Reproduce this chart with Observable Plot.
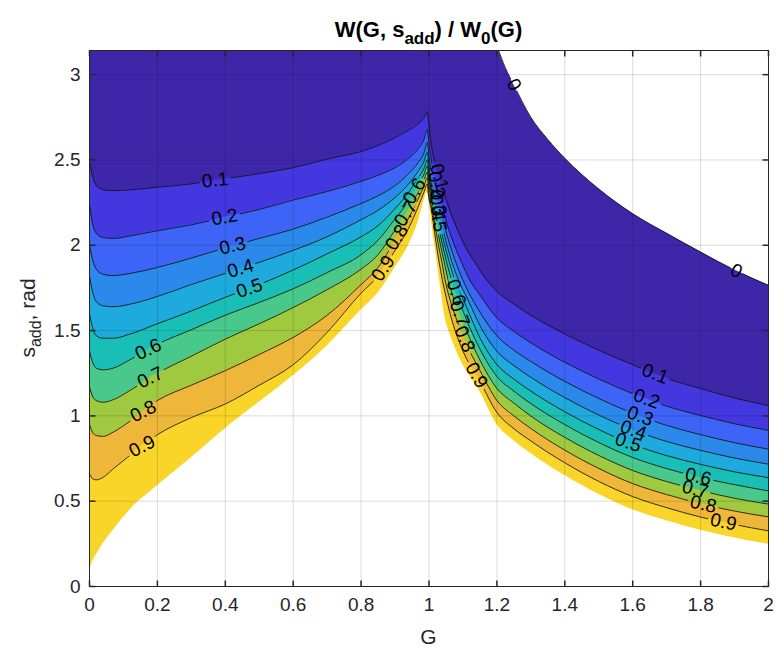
<!DOCTYPE html>
<html><head><meta charset="utf-8">
<script src="https://cdn.jsdelivr.net/npm/d3@7"></script>
<script src="https://cdn.jsdelivr.net/npm/@observablehq/plot@0.6"></script>
<style>body{margin:0;background:#fff;}</style>
</head><body><div id="chart"></div>
<script>
const TOP = Math.PI;
const xTicks = [0, 0.2, 0.4, 0.6, 0.8, 1, 1.2, 1.4, 1.6, 1.8, 2];
const yTicks = [0, 0.5, 1, 1.5, 2, 2.5, 3];
const levels = [0.1, 0.2, 0.3, 0.4, 0.5, 0.6, 0.7, 0.8, 0.9];
const bandColors = ["#3e26a8", "#4337e0", "#3d63f7", "#2a89ea", "#1eaadd", "#19bfb6", "#48c88a", "#9fc93f", "#efb73a", "#f9d52a"];

// left branch (G < 1): s_add of each contour at these G values
const leftX  = [0, 0.01, 0.02, 0.04, 0.07, 0.12, 0.2, 0.3, 0.4, 0.5, 0.6, 0.7, 0.8, 0.85, 0.9, 0.94, 0.97, 0.985, 0.995];
const left01 = [2.49, 2.40, 2.35, 2.325, 2.32, 2.325, 2.34, 2.36, 2.39, 2.42, 2.455, 2.505, 2.55, 2.585, 2.63, 2.675, 2.715, 2.745, 2.78];
const left02 = [2.24, 2.12, 2.07, 2.045, 2.04, 2.055, 2.085, 2.12, 2.165, 2.21, 2.265, 2.315, 2.375, 2.41, 2.455, 2.51, 2.57, 2.62, 2.68];
const left03 = [2.0, 1.91, 1.86, 1.83, 1.822, 1.835, 1.87, 1.925, 1.985, 2.04, 2.095, 2.165, 2.245, 2.29, 2.35, 2.42, 2.49, 2.54, 2.60];
const left04 = [1.82, 1.72, 1.67, 1.645, 1.64, 1.655, 1.70, 1.77, 1.835, 1.90, 1.97, 2.05, 2.15, 2.205, 2.28, 2.36, 2.44, 2.49, 2.545];
const left05 = [1.60, 1.51, 1.47, 1.455, 1.455, 1.48, 1.54, 1.615, 1.695, 1.77, 1.855, 1.95, 2.05, 2.115, 2.215, 2.31, 2.40, 2.45, 2.50];
const left06 = [1.38, 1.31, 1.28, 1.27, 1.28, 1.33, 1.42, 1.505, 1.59, 1.665, 1.745, 1.84, 1.945, 2.03, 2.155, 2.26, 2.36, 2.415, 2.465];
const left07 = [1.17, 1.11, 1.09, 1.08, 1.095, 1.15, 1.25, 1.35, 1.45, 1.54, 1.635, 1.74, 1.86, 1.945, 2.09, 2.21, 2.32, 2.38, 2.43];
const left08 = [0.95, 0.90, 0.885, 0.88, 0.905, 0.97, 1.09, 1.18, 1.265, 1.36, 1.46, 1.59, 1.77, 1.87, 2.03, 2.16, 2.28, 2.345, 2.395];
const left09 = [0.66, 0.63, 0.625, 0.64, 0.69, 0.77, 0.89, 0.99, 1.07, 1.18, 1.30, 1.49, 1.72, 1.82, 1.97, 2.10, 2.235, 2.31, 2.36];
const leftB  = [0.09, 0.15, 0.185, 0.25, 0.33, 0.45, 0.59, 0.755, 0.925, 1.08, 1.235, 1.41, 1.62, 1.72, 1.87, 2.0, 2.15, 2.26, 2.31];

// right branch (G > 1): [G, s_add] points of each contour
const right01 = [[0.995,2.78],[1.0,2.70],[1.006,2.6],[1.015,2.5],[1.03,2.4],[1.045,2.3],[1.062,2.2],[1.082,2.1],[1.105,2.0],[1.135,1.9],[1.165,1.81],[1.2,1.73],[1.25,1.655],[1.3,1.59],[1.4,1.48],[1.5,1.385],[1.6,1.30],[1.7,1.22],[1.8,1.16],[1.9,1.105],[2.0,1.06]];
const right02 = [[0.995,2.68],[1.0,2.6],[1.007,2.5],[1.017,2.4],[1.028,2.3],[1.042,2.2],[1.057,2.1],[1.075,2.0],[1.096,1.9],[1.119,1.8],[1.15,1.709],[1.2,1.574],[1.25,1.495],[1.3,1.428],[1.4,1.314],[1.5,1.216],[1.6,1.13],[1.7,1.057],[1.8,1.002],[1.9,0.954],[2.0,0.915]];
const right03 = [[0.995,2.60],[1.0,2.52],[1.009,2.4],[1.02,2.3],[1.034,2.2],[1.047,2.1],[1.062,2.0],[1.079,1.9],[1.099,1.8],[1.15,1.608],[1.2,1.469],[1.25,1.385],[1.3,1.319],[1.4,1.202],[1.5,1.102],[1.6,1.015],[1.7,0.944],[1.8,0.89],[1.9,0.843],[2.0,0.805]];
const right04 = [[0.995,2.545],[1.0,2.47],[1.004,2.4],[1.013,2.3],[1.028,2.2],[1.04,2.1],[1.053,2.0],[1.068,1.9],[1.086,1.8],[1.115,1.68],[1.15,1.529],[1.2,1.379],[1.25,1.295],[1.3,1.226],[1.4,1.107],[1.5,1.005],[1.6,0.918],[1.7,0.85],[1.8,0.798],[1.9,0.753],[2.0,0.717]];
const right05 = [[0.995,2.50],[1.001,2.4],[1.01,2.3],[1.023,2.2],[1.034,2.1],[1.046,2.0],[1.06,1.9],[1.075,1.8],[1.11,1.64],[1.15,1.457],[1.2,1.301],[1.25,1.215],[1.3,1.145],[1.4,1.024],[1.5,0.92],[1.6,0.833],[1.7,0.767],[1.8,0.716],[1.9,0.672],[2.0,0.638]];
const right06 = [[0.995,2.465],[0.999,2.4],[1.007,2.3],[1.019,2.2],[1.029,2.1],[1.04,2.0],[1.052,1.9],[1.066,1.8],[1.095,1.64],[1.15,1.392],[1.2,1.231],[1.25,1.145],[1.3,1.072],[1.4,0.949],[1.5,0.844],[1.6,0.756],[1.7,0.691],[1.8,0.639],[1.9,0.597],[2.0,0.56]];
const right07 = [[0.995,2.43],[0.997,2.4],[1.004,2.3],[1.015,2.2],[1.024,2.1],[1.034,2.0],[1.045,1.9],[1.056,1.8],[1.08,1.65],[1.11,1.5],[1.15,1.327],[1.2,1.161],[1.25,1.075],[1.3,0.999],[1.4,0.874],[1.5,0.768],[1.6,0.68],[1.7,0.615],[1.8,0.562],[1.9,0.517],[2.0,0.483]];
const right08 = [[0.995,2.395],[1.0,2.3],[1.011,2.2],[1.019,2.1],[1.028,2.0],[1.038,1.9],[1.047,1.8],[1.065,1.66],[1.09,1.52],[1.12,1.38],[1.15,1.266],[1.2,1.09],[1.25,1.0],[1.3,0.926],[1.4,0.799],[1.5,0.692],[1.6,0.603],[1.7,0.539],[1.8,0.486],[1.9,0.442],[2.0,0.408]];
const right09 = [[0.995,2.36],[0.998,2.3],[1.008,2.2],[1.015,2.1],[1.022,2.0],[1.03,1.9],[1.039,1.8],[1.05,1.7],[1.062,1.6],[1.077,1.5],[1.1,1.38],[1.15,1.203],[1.2,1.02],[1.25,0.925],[1.3,0.853],[1.4,0.725],[1.5,0.616],[1.6,0.527],[1.7,0.462],[1.8,0.407],[1.9,0.363],[2.0,0.326]];
const rightB  = [[0.995,2.31],[1.004,2.2],[1.01,2.1],[1.017,2.0],[1.024,1.9],[1.031,1.8],[1.038,1.7],[1.045,1.6],[1.058,1.5],[1.075,1.41],[1.1,1.3],[1.148,1.15],[1.2,0.95],[1.25,0.855],[1.3,0.78],[1.4,0.65],[1.5,0.54],[1.6,0.45],[1.7,0.385],[1.8,0.33],[1.9,0.285],[2.0,0.248]];
// the 0 contour (above it: undefined / white)
const zeroLine = [[1.205,3.1416],[1.225,3.04],[1.25,2.94],[1.3,2.75],[1.35,2.62],[1.4,2.51],[1.5,2.33],[1.6,2.185],[1.7,2.07],[1.8,1.96],[1.9,1.855],[2.0,1.765]];

// contour labels: [text, G, s_add, rotation in degrees]
const contourLabels = [
  ["0.1",0.37,2.381,-6],["0.2",0.398,2.164,-10],["0.3",0.421,1.997,-13],["0.4",0.445,1.864,-16],["0.5",0.471,1.748,-18],
  ["0.6",0.173,1.39,-25],["0.7",0.179,1.224,-25],["0.8",0.158,1.027,-27],["0.9",0.155,0.822,-27],
  ["0.9",0.865,1.865,-57],["0.8",0.905,2.046,-58],["0.7",0.932,2.186,-57],["0.6",0.957,2.317,-59],
  ["0.1",1.03,2.40,75],["0.2",1.022,2.355,78],["0.3",1.027,2.25,80],["0.4",1.025,2.22,82],["0.5",1.028,2.155,82],
  ["0.6",1.08,1.723,72],["0.7",1.09,1.60,70],["0.8",1.105,1.45,67],["0.9",1.14,1.238,60],
  ["0.1",1.666,1.247,21],["0.2",1.641,1.10,20],["0.3",1.622,0.999,20],["0.4",1.602,0.917,19],["0.5",1.587,0.844,19],
  ["0.6",1.793,0.643,14],["0.7",1.784,0.57,14],["0.8",1.808,0.482,13],["0.9",1.867,0.378,12],
  ["0",1.25,2.94,60],["0",1.905,1.85,25]
];

const leftSets = [left01, left02, left03, left04, left05, left06, left07, left08, left09];
const rightSets = [right01, right02, right03, right04, right05, right06, right07, right08, right09];
function branch(leftY, rightPairs) {
  const pts = leftX.map((x, i) => ({x, y: leftY[i]}));
  rightPairs.slice(1).forEach(([x, y]) => pts.push({x, y}));
  return pts;
}
const contours = levels.map((lv, i) => ({level: lv, pts: branch(leftSets[i], rightSets[i])}));
const boundary = branch(leftB, rightB);
const zeroPts = zeroLine.map(([x, y]) => ({x, y}));
const lineData = contours.flatMap(c => c.pts.map(p => ({...p, level: c.level})))
  .concat(zeroPts.map(p => ({...p, level: 0})));

const curve = "monotone-x";
const fills = [Plot.areaY(boundary, {x: "x", y1: "y", y2: () => TOP, fill: bandColors[9], curve})];
for (let i = levels.length - 1; i >= 0; i--) {
  fills.push(Plot.areaY(contours[i].pts, {x: "x", y1: "y", y2: () => TOP, fill: bandColors[i], curve}));
}
fills.push(Plot.areaY(zeroPts, {x: "x", y1: "y", y2: () => TOP, fill: "#ffffff", curve}));

const TL = 6, tc = "#262626";
const symUp = {draw(c) { c.moveTo(0, 0); c.lineTo(0, -TL); }};
const symDown = {draw(c) { c.moveTo(0, 0); c.lineTo(0, TL); }};
const symRight = {draw(c) { c.moveTo(0, 0); c.lineTo(TL, 0); }};
const symLeft = {draw(c) { c.moveTo(0, 0); c.lineTo(-TL, 0); }};

const chart = Plot.plot({
  width: 778, height: 654,
  marginLeft: 89, marginRight: 10, marginTop: 50, marginBottom: 68,
  style: {fontFamily: "'Liberation Sans', Arial, Helvetica, sans-serif", background: "#fff"},
  x: {domain: [0, 2]},
  y: {domain: [0, TOP]},
  marks: [
    ...fills,
    Plot.gridX(xTicks, {stroke: "#000", strokeOpacity: 0.14}),
    Plot.gridY(yTicks, {stroke: "#000", strokeOpacity: 0.14}),
    Plot.line(lineData, {x: "x", y: "y", z: "level", stroke: "#111", strokeWidth: 0.85, curve}),
    Plot.text(contourLabels, {x: d => d[1], y: d => d[2], text: d => d[0], rotate: d => d[3], fontSize: 19, fill: "#000"}),
    Plot.frame({stroke: tc}),
    Plot.dot(xTicks, {x: d => d, y: () => 0, symbol: symUp, stroke: tc, fill: "none"}),
    Plot.dot(xTicks, {x: d => d, y: () => TOP, symbol: symDown, stroke: tc, fill: "none"}),
    Plot.dot(yTicks, {x: () => 0, y: d => d, symbol: symRight, stroke: tc, fill: "none"}),
    Plot.dot(yTicks, {x: () => 2, y: d => d, symbol: symLeft, stroke: tc, fill: "none"}),
    Plot.axisX(xTicks, {tickSize: 0, tickPadding: 11, tickFormat: d => String(d), fontSize: 19, color: tc, label: null}),
    Plot.axisY(yTicks, {tickSize: 0, tickPadding: 9, tickFormat: d => String(d), fontSize: 19, color: tc, label: null})
  ]
});
document.getElementById("chart").appendChild(chart);

// label gaps in contour lines
const svg = d3.select(chart);
const sx = chart.scale("x"), sy = chart.scale("y");
const mask = svg.append("defs").append("mask").attr("id", "lblgap")
  .attr("maskUnits", "userSpaceOnUse").attr("x", 0).attr("y", 0).attr("width", 778).attr("height", 654);
mask.append("rect").attr("width", 778).attr("height", 654).attr("fill", "white");
contourLabels.forEach(([t, x, y, r]) => {
  const w = t.length * 9 + 4;
  mask.append("rect").attr("x", -w / 2).attr("y", -3.5).attr("width", w).attr("height", 7).attr("fill", "black")
    .attr("transform", `translate(${sx.apply(x)},${sy.apply(y)}) rotate(${r})`);
});
svg.selectAll('g[aria-label="line"]').attr("mask", "url(#lblgap)");

// title and axis labels
const cx = (sx.range[0] + sx.range[1]) / 2, cy = (sy.range[0] + sy.range[1]) / 2;
const title = svg.append("text").attr("x", cx).attr("y", 37).attr("text-anchor", "middle")
  .attr("font-weight", "bold").attr("font-size", 22).attr("fill", "#000");
title.append("tspan").text("W(G, s");
title.append("tspan").attr("font-size", 17).attr("dy", 7).text("add");
title.append("tspan").attr("dy", -7).text(") / W");
title.append("tspan").attr("font-size", 17).attr("dy", 7).text("0");
title.append("tspan").attr("dy", -7).text("(G)");
svg.append("text").attr("x", cx).attr("y", 644).attr("text-anchor", "middle")
  .attr("font-size", 21).attr("fill", tc).text("G");
const yl = svg.append("text").attr("transform", `translate(35,${cy}) rotate(-90)`).attr("text-anchor", "middle")
  .attr("font-size", 21).attr("fill", tc);
yl.append("tspan").text("s");
yl.append("tspan").attr("font-size", 16).attr("dy", 6).text("add");
yl.append("tspan").attr("dy", -6).text(", rad");
</script></body></html>
